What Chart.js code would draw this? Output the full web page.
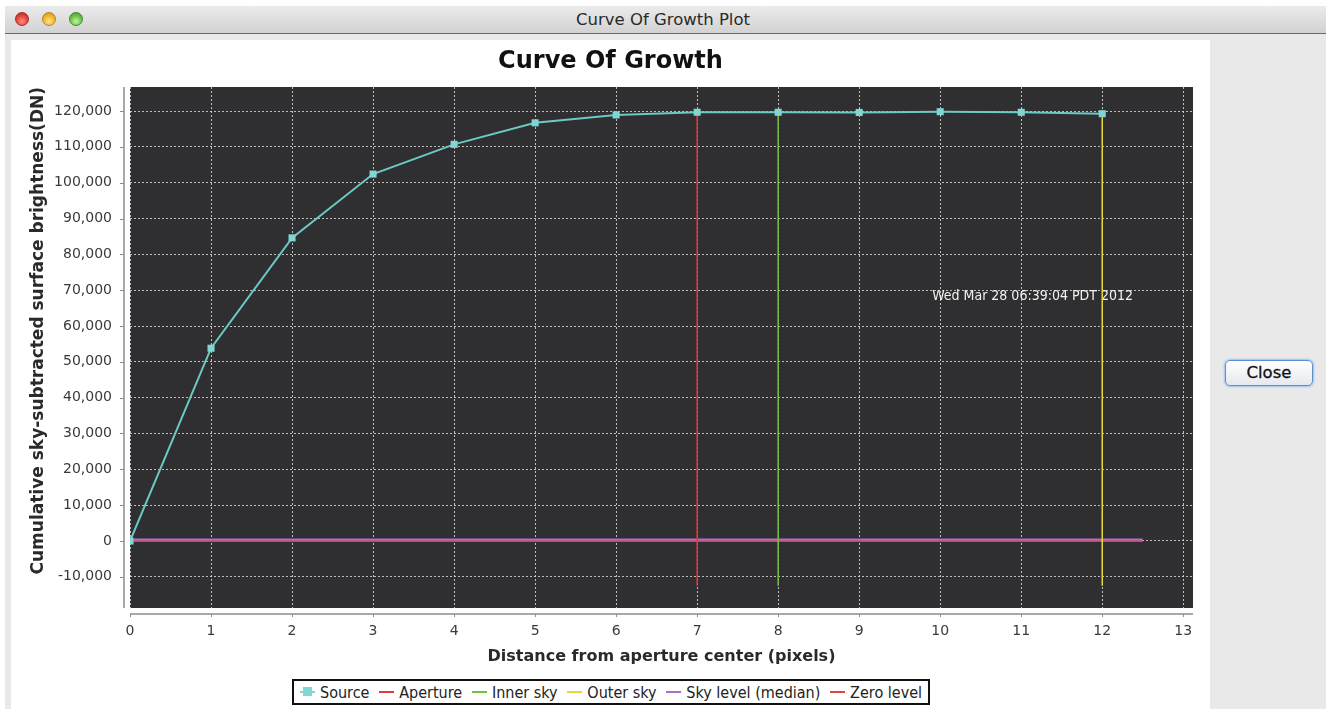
<!DOCTYPE html>
<html><head><meta charset="utf-8">
<script src="https://cdn.jsdelivr.net/npm/chart.js@4.4.0/dist/chart.umd.min.js"></script>
<style>
html,body{margin:0;padding:0;background:#fff;width:1326px;height:709px;overflow:hidden;font-family:"DejaVu Sans",sans-serif;}
#win{position:absolute;left:5px;top:6px;width:1321px;height:703px;background:#e9e9e9;}
#titlebar{position:absolute;left:0;top:0;width:1321px;height:27px;background:linear-gradient(#ebebeb,#d2d2d2);border-bottom:1px solid #6a6a6a;border-radius:5px 0 0 0;}
.tl{position:absolute;top:6px;width:14px;height:14px;border-radius:50%;box-sizing:border-box;}
#tr{left:10px;background:radial-gradient(circle at 50% 70%,#ff8a80,#e0443e 55%,#b0201c);border:1px solid #a52a25;}
#ty{left:37px;background:radial-gradient(circle at 50% 70%,#ffe38a,#f0b433 55%,#c98a12);border:1px solid #b8841a;}
#tg{left:64px;background:radial-gradient(circle at 50% 70%,#c4f39a,#6cc24a 55%,#3e8e2a);border:1px solid #3f8a2c;}
#wtitle{position:absolute;left:0;top:0;width:1316px;height:27px;line-height:28px;text-align:center;font-size:16.5px;color:#2a2a2a;}
#panel{position:absolute;left:6px;top:34px;width:1199px;height:669px;background:#fff;}
#cv{position:absolute;left:0;top:0;width:1199px;height:635px;}
#legend{position:absolute;left:281px;top:639px;width:622px;height:22px;padding:0 6px;border:2px solid #111;display:flex;align-items:center;justify-content:space-between;font-family:"DejaVu Sans Condensed","Liberation Sans Narrow","DejaVu Sans",sans-serif;font-size:16px;color:#222;white-space:nowrap;}
.li{display:flex;align-items:center;}
.sym{position:relative;width:15px;height:2px;margin-right:5px;}
.sq{position:absolute;left:3px;top:-4px;width:9px;height:9px;background:#7fd6d2;}
#closebtn{position:absolute;left:1220px;top:354px;width:88px;height:26px;box-sizing:border-box;border:1px solid #5b8fd0;border-radius:5px;background:linear-gradient(#ffffff,#e6e8ee);box-shadow:0 0 2px 1px #9cc3ee;font-size:16.5px;color:#111;text-align:center;line-height:24px;font-family:"DejaVu Sans",sans-serif;-webkit-text-stroke:0.3px #111;}
</style></head>
<body>
<div id="win">
  <div id="titlebar"><div class="tl" id="tr"></div><div class="tl" id="ty"></div><div class="tl" id="tg"></div><div id="wtitle">Curve Of Growth Plot</div></div>
  <div id="panel">
    <canvas id="cv" width="1199" height="635"></canvas>
    <div id="legend"></div>
  </div>
  <div id="closebtn">Close</div>
</div>
<script>
// ---- data ----
const xValues = [0, 1, 2, 3, 4, 5, 6, 7, 8, 9, 10, 11, 12];
const sourceValues = [0, 53800, 84600, 102400, 110700, 116700, 118900, 119650, 119650, 119600, 119800, 119650, 119250];
const apertureRadius = 7;
const innerSkyRadius = 8;
const outerSkyRadius = 12;
const radiusLineSpan = [-12500, 119700];
const skyMedianLevel = 400;
const zeroLevel = 0;
const levelLineSpan = [0, 12.5];
const xTicks = [0, 1, 2, 3, 4, 5, 6, 7, 8, 9, 10, 11, 12, 13];
const yTicks = [-10000, 0, 10000, 20000, 30000, 40000, 50000, 60000, 70000, 80000, 90000, 100000, 110000, 120000];
const xRange = [0, 13.12];
const yRange = [-18700, 126700];
const legendLabels = ['Source', 'Aperture', 'Inner sky', 'Outer sky', 'Sky level (median)', 'Zero level'];
const seriesColors = ['#7fd6d2', '#e2393a', '#74c23c', '#e5d83a', '#a66fd0', '#e2453f'];
const stampText = 'Wed Mar 28 06:39:04 PDT 2012';
const stampAt = [11.14, 68400];

const fmt = v => Math.round(v).toLocaleString('en-US');

const datasets = [
  { label: legendLabels[0], data: xValues.map((x, i) => ({x, y: sourceValues[i]})), borderColor: '#6cc9c4', backgroundColor: seriesColors[0], borderWidth: 2, pointStyle: 'rect', pointRadius: 5, pointBorderWidth: 0, pointBackgroundColor: seriesColors[0], clip: 0 },
  { label: legendLabels[1], data: [{x: apertureRadius, y: radiusLineSpan[0]}, {x: apertureRadius, y: radiusLineSpan[1]}], borderColor: seriesColors[1], borderWidth: 1.5, pointRadius: 0 },
  { label: legendLabels[2], data: [{x: innerSkyRadius, y: radiusLineSpan[0]}, {x: innerSkyRadius, y: radiusLineSpan[1]}], borderColor: seriesColors[2], borderWidth: 1.5, pointRadius: 0 },
  { label: legendLabels[3], data: [{x: outerSkyRadius, y: radiusLineSpan[0]}, {x: outerSkyRadius, y: radiusLineSpan[1]}], borderColor: seriesColors[3], borderWidth: 1.5, pointRadius: 0 },
  { label: legendLabels[4], data: [{x: levelLineSpan[0], y: skyMedianLevel}, {x: levelLineSpan[1], y: skyMedianLevel}], borderColor: seriesColors[4], borderWidth: 2, pointRadius: 0 },
  { label: legendLabels[5], data: [{x: levelLineSpan[0], y: zeroLevel}, {x: levelLineSpan[1], y: zeroLevel}], borderColor: seriesColors[5], borderWidth: 2, pointRadius: 0 }
];

// HTML legend with boxed frame
const lg = document.getElementById('legend');
legendLabels.forEach((name, i) => {
  const it = document.createElement('div'); it.className = 'li';
  const s = document.createElement('div'); s.className = 'sym'; s.style.background = seriesColors[i];
  if (i === 0) { const q = document.createElement('div'); q.className = 'sq'; s.appendChild(q); }
  const t = document.createElement('span'); t.textContent = name;
  it.appendChild(s); it.appendChild(t); lg.appendChild(it);
});

const OFF = 6;
const framePlugin = {
  id: 'frame',
  beforeDraw(c) {
    const {ctx, chartArea: a} = c;
    ctx.save(); ctx.fillStyle = '#2f2f31'; ctx.fillRect(a.left, a.top, a.right - a.left, a.bottom - a.top); ctx.restore();
  },
  beforeDatasetsDraw(c) {
    const {ctx, scales} = c;
    ctx.save();
    ctx.font = '14px "DejaVu Sans Condensed", "DejaVu Sans", sans-serif';
    ctx.fillStyle = '#f2f2f2'; ctx.textAlign = 'center'; ctx.textBaseline = 'middle';
    ctx.fillText(stampText, scales.x.getPixelForValue(stampAt[0]), scales.y.getPixelForValue(stampAt[1]));
    ctx.restore();
  },
  afterDraw(c) {
    const {ctx, chartArea: a, scales} = c;
    ctx.save();
    ctx.strokeStyle = '#8c8c8c'; ctx.lineWidth = 1.5;
    const ax = a.left - OFF, ay = a.bottom + OFF;
    ctx.beginPath(); ctx.moveTo(ax, a.top); ctx.lineTo(ax, a.bottom);
    ctx.moveTo(a.left, ay); ctx.lineTo(a.right, ay); ctx.stroke();
    ctx.lineWidth = 1; ctx.beginPath();
    yTicks.forEach(v => { const p = Math.round(scales.y.getPixelForValue(v)) + 0.5; ctx.moveTo(ax - 4, p); ctx.lineTo(ax, p); });
    xTicks.forEach(v => { const p = Math.round(scales.x.getPixelForValue(v)) + 0.5; ctx.moveTo(p, ay); ctx.lineTo(p, ay + 3); });
    ctx.stroke();
    ctx.restore();
  }
};

new Chart(document.getElementById('cv'), {
  type: 'scatter',
  data: { datasets },
  plugins: [framePlugin],
  options: {
    responsive: false, animation: false, showLine: true,
    layout: { padding: { left: 17, right: 17, top: 0, bottom: 0 } },
    plugins: {
      legend: { display: false }, tooltip: { enabled: false },
      title: { display: true, text: 'Curve Of Growth', color: '#111', font: { family: 'DejaVu Sans', size: 24, weight: 'bold' }, padding: { top: 7.6, bottom: 10.6 } }
    },
    elements: { line: { tension: 0 } },
    scales: {
      x: {
        type: 'linear', min: xRange[0], max: xRange[1],
        afterBuildTicks: s => { s.ticks = xTicks.map(v => ({value: v})); },
        afterFit: s => { s.height = 67; },
        grid: { color: 'rgba(215,215,215,0.85)', lineWidth: 1, drawTicks: false },
        border: { display: false, dash: [2, 2] },
        ticks: { padding: 15, color: '#3a3a3a', font: { family: 'DejaVu Sans', size: 14 }, maxRotation: 0, autoSkip: false, callback: v => fmt(v) },
        title: { display: true, text: 'Distance from aperture center (pixels)', color: '#2a2a2a', font: { family: 'DejaVu Sans', size: 16, weight: 'bold' }, padding: { top: 0, bottom: 8.4 } }
      },
      y: {
        type: 'linear', min: yRange[0], max: yRange[1],
        afterBuildTicks: s => { s.ticks = yTicks.map(v => ({value: v})); },
        afterFit: s => { s.width = 102; },
        grid: { color: 'rgba(215,215,215,0.85)', lineWidth: 1, drawTicks: false },
        border: { display: false, dash: [2, 2] },
        ticks: { padding: 18, color: '#3a3a3a', font: { family: 'DejaVu Sans', size: 14 }, autoSkip: false, callback: v => fmt(v) },
        title: { display: true, align: 'end', text: 'Cumulative sky-subtracted surface brightness(DN)', color: '#2a2a2a', font: { family: 'DejaVu Sans', size: 17, weight: 'bold' }, padding: { top: 0, bottom: 0 } }
      }
    }
  }
});
</script>
</body></html>
